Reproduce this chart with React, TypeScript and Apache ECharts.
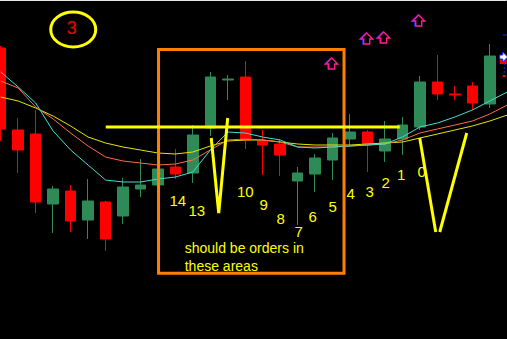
import React, { useEffect, useRef } from "react";
import * as echarts from "echarts";

// Price scale (arbitrary units, higher = higher price)
const categories = Array.from({ length: 30 }, (_, i) => String(i));

// [open, close, low, high]
const candles: (number[] | string)[] = [
  [291, 210, 198, 293],
  [209, 189, 166, 221],
  [205, 137, 126, 229],
  [135, 150, 106, 153],
  [148, 118, 107, 154],
  [119, 138, 100, 160],
  [137, 100, 88, 138],
  [123, 152, 115, 161],
  [150, 154, 142, 180],
  [154, 170, 151, 174],
  [172, 165, 160, 190],
  [166, 204, 156, 214],
  [211, 262, 203, 267],
  [259, 260, 239, 264],
  [262, 199, 190, 278],
  [198, 194, 164, 209],
  [195, 184, 163, 200],
  [158, 166, 114, 172],
  [165, 181, 147, 185],
  [179, 201, 159, 206],
  [200, 207, 194, 225],
  [207, 195, 167, 209],
  [188, 200, 177, 218],
  [200, 214, 184, 222],
  [212, 257, 209, 263],
  [257, 245, 239, 284],
  [245, 244, 239, 253],
  [253, 236, 229, 257],
  [235, 283, 231, 295],
  "-",
];

const maFast = [267, 252, 236, 208, 189, 174, 159, 157, 157, 160, 162, 167, 189, 207, 206, 202, 199, 192, 191, 192, 193, 194, 195, 202, 212, 216, 222, 229, 238, 247];
const maMid = [258, 251, 232, 220, 206, 193, 182, 178, 176, 174, 175, 179, 189, 199, 200, 199, 197, 192, 192, 192, 193, 194, 195, 199, 206, 210, 214, 218, 225, 234];
const maSlow = [242, 238, 231, 223, 213, 202, 196, 192, 189, 186, 185, 187, 193, 198, 199, 199, 197, 195, 194, 194, 194, 195, 196, 197, 201, 205, 209, 213, 218, 224];

const countLabels = ["14", "13", "10", "9", "8", "7", "6", "5", "4", "3", "2", "1", "0"];

const YELLOW = "#FFFF00";
const FONT = "Liberation Sans, Arial, sans-serif";
const SHIFT = 7.725; // chart canvas starts this far left of the window

function upArrow(x0: number, y0: number) {
  const pts = (dx: number) => [
    [x0 + 6 + dx, y0],
    [x0 + 12 + dx, y0 + 6],
    [x0 + 9 + dx, y0 + 6],
    [x0 + 9 + dx, y0 + 11],
    [x0 + 3 + dx, y0 + 11],
    [x0 + 3 + dx, y0 + 6],
    [x0 + dx, y0 + 6],
  ];
  return [
    { type: "polygon", shape: { points: pts(-1) }, style: { fill: "none", stroke: "#2020FF", lineWidth: 1.2 }, z: 100 },
    { type: "polygon", shape: { points: pts(0) }, style: { fill: "#000", stroke: "#FF1A8C", lineWidth: 1.4 }, z: 101 },
  ];
}

export default function App() {
  const ref = useRef<HTMLDivElement>(null);
  useEffect(() => {
    if (!ref.current) return;
    const chart = echarts.init(ref.current, undefined, { renderer: "svg" });
    const labelPos = [
      [178, 200], [197, 210], [245.5, 191.5], [264, 204.5], [281, 218], [299, 231.5],
      [313, 216.5], [333, 206], [351, 193.5], [370, 191.5], [386, 182.5], [401.5, 174.5], [422, 171.5],
    ];
    const labelTexts = countLabels.map((t, i) => ({
      type: "text",
      x: labelPos[i][0],
      y: labelPos[i][1],
      z: 120,
      style: { text: t, fill: YELLOW, font: `15px ${FONT}`, align: "center", verticalAlign: "middle" },
    }));
    const option: any = {
      animation: false,
      backgroundColor: "#000000",
      grid: { left: 0, right: 0, top: 0, bottom: 0, containLabel: false },
      xAxis: { type: "category", data: categories, show: false, boundaryGap: true },
      yAxis: { type: "value", min: 0, max: 339, show: false, splitLine: { show: false } },
      series: [
        {
          type: "candlestick",
          data: candles,
          barWidth: 11,
          itemStyle: { color: "#2E8B57", color0: "#FF0000", borderColor: "#2E8B57", borderColor0: "#FF0000", borderWidth: 1 },
          z: 2,
        },
        { type: "line", data: maSlow, symbol: "none", lineStyle: { color: "#E6E600", width: 1 }, z: 3 },
        { type: "line", data: maMid, symbol: "none", lineStyle: { color: "#FF6A4D", width: 1 }, z: 4 },
        { type: "line", data: maFast, symbol: "none", lineStyle: { color: "#40E0D0", width: 1 }, z: 5 },
      ],
      graphic: [
        {
          type: "group",
          x: SHIFT,
          y: 0,
          children: [
            { type: "rect", shape: { x: 0, y: 0, width: 507, height: 1 }, style: { fill: "#E8E8E8" }, z: 100 },
            { type: "ellipse", shape: { cx: 73.5, cy: 29.5, rx: 22.5, ry: 17.5 }, style: { fill: "none", stroke: YELLOW, lineWidth: 3 }, z: 100 },
            { type: "text", x: 72, y: 28, z: 101, style: { text: "3", fill: "#FF0000", font: `18px ${FONT}`, align: "center", verticalAlign: "middle" } },
            { type: "rect", shape: { x: 158.8, y: 49.6, width: 185.5, height: 223.7 }, style: { fill: "none", stroke: "#FF8000", lineWidth: 3 }, z: 100 },
            { type: "line", shape: { x1: 106, y1: 127, x2: 400, y2: 127 }, style: { stroke: YELLOW, lineWidth: 3 }, z: 110 },
            { type: "polyline", shape: { points: [[211.5, 138], [219, 213], [228, 118]] }, style: { fill: "none", stroke: YELLOW, lineWidth: 3 }, z: 110 },
            { type: "line", shape: { x1: 420, y1: 138, x2: 436, y2: 232 }, style: { stroke: YELLOW, lineWidth: 3 }, z: 110 },
            { type: "line", shape: { x1: 440, y1: 232, x2: 467, y2: 133 }, style: { stroke: YELLOW, lineWidth: 3 }, z: 110 },
            ...labelTexts,
            { type: "text", x: 185, y: 248, z: 120, style: { text: "should be orders in", fill: YELLOW, font: `14px ${FONT}`, align: "left", verticalAlign: "middle" } },
            { type: "text", x: 185, y: 265.5, z: 120, style: { text: "these areas", fill: YELLOW, font: `14px ${FONT}`, align: "left", verticalAlign: "middle" } },
            ...upArrow(326, 58),
            ...upArrow(361, 33),
            ...upArrow(378, 32),
            ...upArrow(413, 15),
            { type: "line", shape: { x1: 503, y1: 35, x2: 507, y2: 35 }, style: { stroke: "#2020FF", lineWidth: 1 }, z: 100 },
            { type: "rect", shape: { x: 500, y: 59, width: 7, height: 5 }, style: { fill: "#FF0000" }, z: 100 },
            { type: "polygon", shape: { points: [[500, 55], [503, 55], [503, 52], [508, 57], [503, 62], [503, 59], [500, 59]] }, style: { fill: "#FFFFFF", stroke: "#2020FF", lineWidth: 1 }, z: 101 },
            { type: "line", shape: { x1: 504.5, y1: 63, x2: 504.5, y2: 77 }, style: { stroke: "#2020FF", lineWidth: 1, lineDash: [2, 2] }, z: 100 },
            { type: "rect", shape: { x: 503, y: 75, width: 3, height: 2 }, style: { fill: "#FF0000" }, z: 100 },
          ],
        },
      ],
    };
    chart.setOption(option);
    return () => chart.dispose();
  }, []);
  return (
    <div style={{ position: "fixed", left: 0, top: 0, width: 507, height: 339, overflow: "hidden", background: "#000" }}>
      <div
        ref={ref}
        style={{ position: "absolute", left: -SHIFT, top: 0, width: 523.5, height: 339 }}
      />
    </div>
  );
}
